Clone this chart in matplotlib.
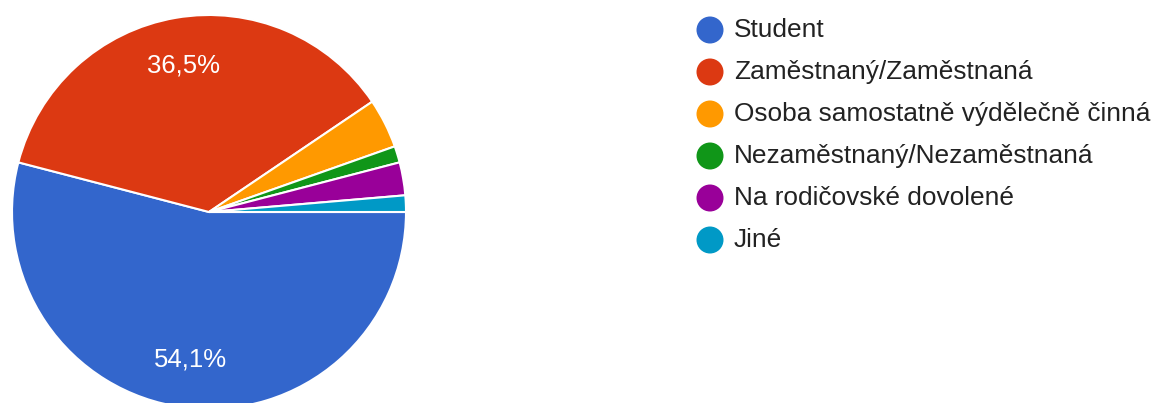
import matplotlib
matplotlib.use("Agg")
import matplotlib.pyplot as plt

categories = ["Student", "Zaměstnaný/Zaměstnaná", "Osoba samostatně výdělečně činná",
              "Nezaměstnaný/Nezaměstnaná", "Na rodičovské dovolené", "Jiné"]
counts = [40, 27, 3, 1, 2, 1]
colors = ["#3366cc", "#dc3912", "#ff9900", "#109618", "#990099", "#0099c6"]

W, H = 1154, 403
fig = plt.figure(figsize=(W / 100, H / 100), dpi=100)
plt.rcParams['font.family'] = ['Liberation Sans', 'DejaVu Sans']

cx, cy, r = 209, 212, 197
ax = fig.add_axes([(cx - r) / W, (H - cy - r) / H, 2 * r / W, 2 * r / H])

def fmt(p):
    return (f"{p:.1f}%".replace(".", ",")) if p > 10 else ""

wedges, texts, autotexts = ax.pie(
    counts, colors=colors, startangle=0, counterclock=False,
    autopct=fmt, pctdistance=0.755,
    wedgeprops=dict(edgecolor="white", linewidth=1.5),
    textprops=dict(color="white", fontsize=18.5))
ax.set_xlim(-1, 1)
ax.set_ylim(-1, 1)
ax.set_aspect("equal")
ax.axis("off")

# legend
lax = fig.add_axes([0, 0, 1, 1])
lax.set_xlim(0, W)
lax.set_ylim(H, 0)
lax.axis("off")
y0, dy = 30, 42
for i, (lab, col) in enumerate(zip(categories, colors)):
    y = y0 + i * dy
    lax.scatter([710], [y], s=(27 * 0.72) ** 2, color=col, edgecolor="none")
    lax.text(734, y, lab, fontsize=18.9, color="#222222", va="center", ha="left")

fig.savefig("out.png", dpi=100)
